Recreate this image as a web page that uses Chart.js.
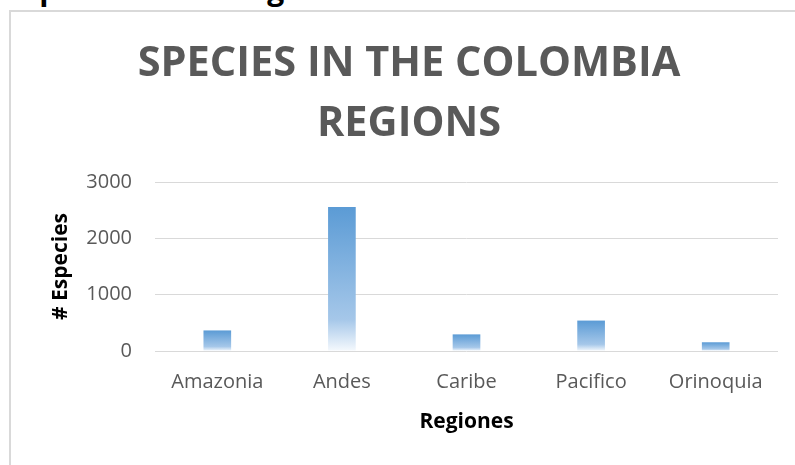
<!DOCTYPE html>
<html>
<head>
<meta charset="utf-8">
<script src="https://cdn.jsdelivr.net/npm/chart.js@4"></script>
<style>
  html, body { margin: 0; padding: 0; background: #fff; overflow: hidden; }
  body { width: 795px; height: 465px; position: relative; }
  #caption {
    position: absolute; left: 0; top: -26px; white-space: nowrap;
    font: bold 30px/30px "Open Sans", sans-serif; color: #000;
  }
  #frame {
    position: absolute; left: 9px; top: 10px; width: 820px; height: 480px;
    border: 2px solid #d9d9d9; box-sizing: border-box;
  }
  #wrap { position: absolute; left: 0; top: 0; width: 818px; height: 465px; }
</style>
</head>
<body>
<div id="caption">s Species in the regions of Colombia</div>
<div id="frame"></div>
<div id="wrap"><canvas id="myChart"></canvas></div>
<script>
const regions = ["Amazonia", "Andes", "Caribe", "Pacifico", "Orinoquia"];
const speciesCount = [365, 2555, 295, 540, 155];
const yTicks = [0, 1000, 2000, 3000];

const font = "'Open Sans', sans-serif";

// each bar fades from blue at its top to almost white at the baseline
function barGradient(context) {
    const chart = context.chart;
    if (!chart.chartArea || context.raw === undefined) return '#5b9bd5';
    const y = chart.scales.y;
    const top = y.getPixelForValue(context.raw);
    const bottom = y.getPixelForValue(0);
    const g = chart.ctx.createLinearGradient(0, top, 0, bottom);
    g.addColorStop(0, '#5b9bd5');
    g.addColorStop(0.78, '#a5c7e9');
    g.addColorStop(1, '#f5f9fd');
    return g;
}

const ctx = document.getElementById('myChart').getContext('2d');
const myChart = new Chart(ctx, {
    type: 'bar',
    data: {
        labels: regions,
        datasets: [{
            data: speciesCount,
            backgroundColor: barGradient,
            borderWidth: 0,
            barPercentage: 0.222,
            categoryPercentage: 1
        }]
    },
    options: {
        responsive: true,
        maintainAspectRatio: false,
        animation: false,
        layout: { padding: { left: 40, right: 40, top: 0, bottom: 30 } },
        plugins: {
            legend: { display: false },
            tooltip: { enabled: false },
            title: {
                display: true,
                text: ['SPECIES IN THE COLOMBIA', 'REGIONS'],
                color: '#595959',
                font: { family: font, size: 41.5, weight: 'bold', lineHeight: 60 / 41.5 },
                padding: { top: 34, bottom: 28 }
            }
        },
        scales: {
            x: {
                grid: { display: false, drawTicks: false },
                border: { display: false },
                ticks: {
                    color: '#595959',
                    font: { family: font, size: 20 },
                    padding: 19
                },
                title: {
                    display: true,
                    text: 'Regiones',
                    color: '#000',
                    font: { family: font, size: 21, weight: 'bold' },
                    padding: 0
                },
                afterFit: axis => { axis.height = 84; }
            },
            y: {
                min: 0,
                max: 3000,
                afterBuildTicks: axis => { axis.ticks = yTicks.map(v => ({ value: v })); },
                afterFit: axis => { axis.width = 115; },
                grid: { color: '#d9d9d9', lineWidth: 1, drawTicks: false },
                border: { display: false },
                ticks: {
                    color: '#595959',
                    font: { family: font, size: 20 },
                    padding: 23,
                    callback: v => String(v)
                },
                title: {
                    display: true,
                    text: '# Especies',
                    color: '#000',
                    font: { family: font, size: 21, weight: 'bold' },
                    padding: { top: 8, bottom: 0 }
                }
            }
        }
    }
});
</script>
</body>
</html>
